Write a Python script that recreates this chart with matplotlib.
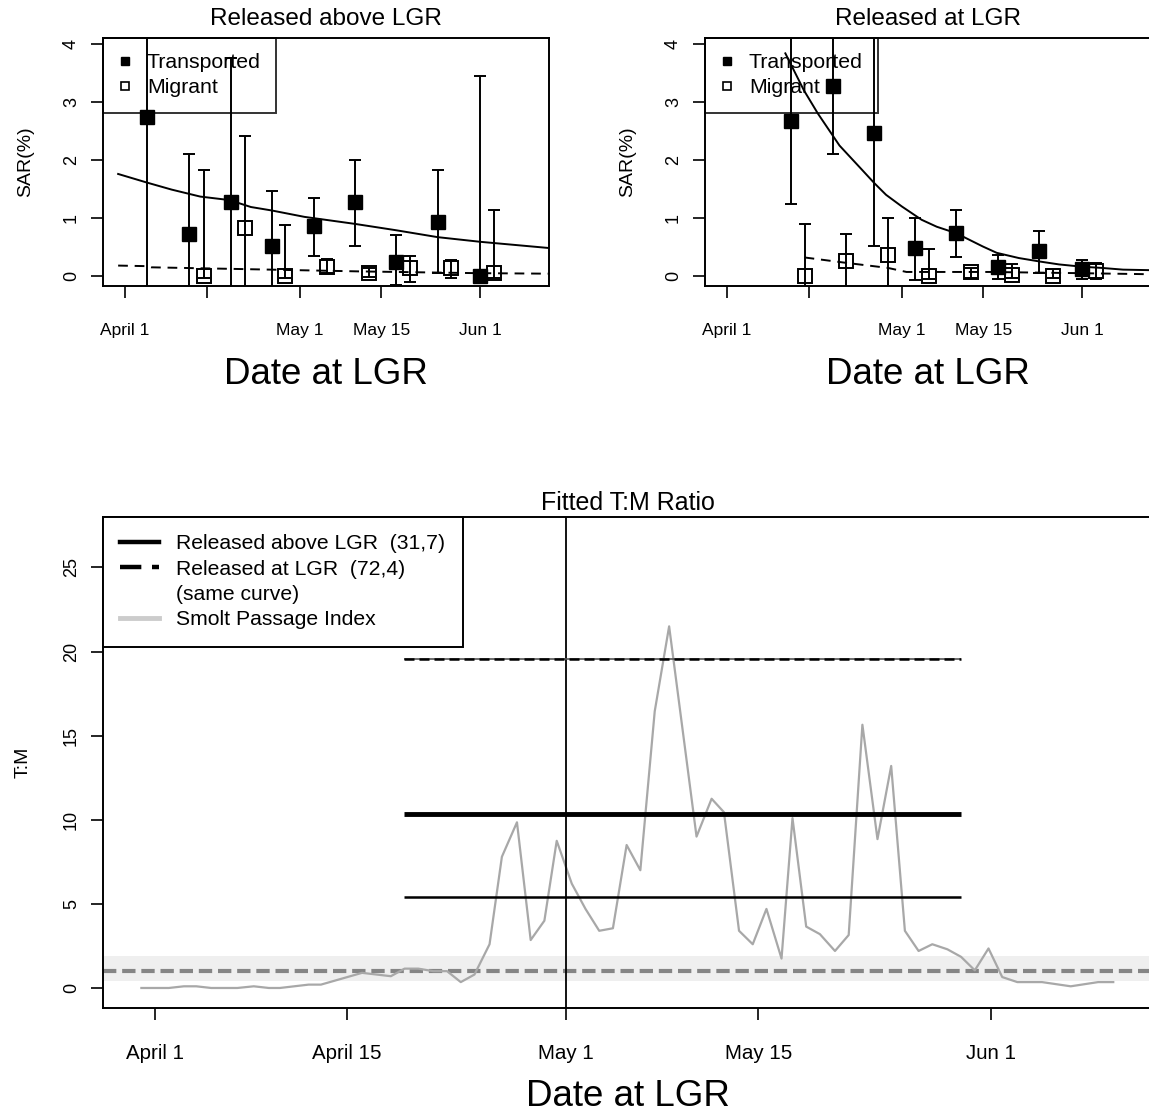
import numpy as np
import matplotlib
matplotlib.use('Agg')
import matplotlib.pyplot as plt
from matplotlib.lines import Line2D

plt.rcParams['font.family'] = ['Liberation Sans', 'DejaVu Sans']

######################### Data (days since April 1) ###########################
tick_days = [0, 14, 30, 44, 61]
tick_labels_top = ['April 1', '', 'May 1', 'May 15', 'Jun 1']
tick_labels_bottom = ['April 1', 'April 15', 'May 1', 'May 15', 'Jun 1']

# Released above LGR
above_tr_day = [3.8, 11.0, 18.1, 25.2, 32.4, 39.4, 46.5, 53.7, 61.0]
above_tr_sar = [2.74, 0.72, 1.27, 0.52, 0.86, 1.27, 0.25, 0.94, 0.0]
above_tr_lo = [-0.5, -0.5, -0.5, -0.5, 0.35, 0.52, -0.15, 0.05, 0.0]
above_tr_hi = [4.5, 2.10, 3.76, 1.46, 1.35, 2.00, 0.70, 1.83, 3.45]
above_mi_day = [13.5, 20.6, 27.5, 34.7, 41.9, 48.9, 56.0, 63.3]
above_mi_sar = [0.0, 0.83, 0.0, 0.16, 0.06, 0.13, 0.13, 0.05]
above_mi_lo = [-0.03, -0.5, -0.03, 0.05, -0.02, -0.10, -0.03, -0.03]
above_mi_hi = [1.83, 2.41, 0.88, 0.30, 0.13, 0.35, 0.28, 1.13]
above_fit_t_day = [-1.2, 3.8, 8.0, 12.9, 17.9, 21.6, 25.2, 30.8, 39.4, 46.5, 53.7, 61.0, 73.1]
above_fit_t = [1.76, 1.61, 1.49, 1.37, 1.31, 1.19, 1.13, 1.02, 0.90, 0.79, 0.67, 0.59, 0.48]
above_fit_m_day = [-1.2, 3.8, 4.5, 20.0, 40.0, 60.0, 73.1]
above_fit_m = [0.18, 0.17, 0.15, 0.12, 0.08, 0.05, 0.04]

# Released at LGR
at_tr_day = [11.0, 18.1, 25.3, 32.2, 39.3, 46.5, 53.6, 60.9]
at_tr_sar = [2.68, 3.28, 2.46, 0.48, 0.74, 0.16, 0.44, 0.115]
at_tr_lo = [1.24, 2.11, 0.52, -0.07, 0.32, -0.06, 0.06, -0.05]
at_tr_hi = [4.5, 4.5, 4.5, 1.00, 1.13, 0.37, 0.78, 0.28]
at_mi_day = [13.3, 20.4, 27.6, 34.6, 41.8, 48.9, 56.0, 63.3]
at_mi_sar = [0.0, 0.26, 0.36, 0.0, 0.07, 0.02, 0.0, 0.08]
at_mi_lo = [-0.5, -0.5, -0.5, -0.05, -0.03, -0.03, -0.04, -0.05]
at_mi_hi = [0.90, 0.72, 1.00, 0.46, 0.13, 0.20, 0.12, 0.22]
at_fit_t_day = [10.0, 13.2, 15.6, 19.3, 23.0, 25.3, 27.3, 30.0, 33.4, 36.0, 39.3,
                43.9, 46.3, 50.1, 53.7, 57.0, 61.0, 64.3, 68.0, 73.1]
at_fit_t = [3.84, 3.20, 2.80, 2.25, 1.85, 1.60, 1.40, 1.20, 0.97, 0.85, 0.74,
            0.51, 0.40, 0.31, 0.25, 0.20, 0.16, 0.14, 0.11, 0.10]
at_fit_m_day = [13.3, 20.2, 27.6, 30.8, 45.0, 60.0, 73.1]
at_fit_m = [0.32, 0.23, 0.14, 0.07, 0.07, 0.05, 0.03]

# Fitted T:M ratio
tm_span = [18.15, 58.8]
tm_fit = 10.32
tm_lo = 5.42
tm_hi = 19.56
tm_ref = 1.0
tm_band = [0.42, 1.90]

smolt_day = [-1.0, 1.0, 2.1, 3.0, 4.1, 6.0, 7.2, 8.3, 9.1, 11.2, 12.1, 15.1, 17.2,
             18.2, 19.2, 20.3, 21.3, 22.3, 23.3, 24.4, 25.3, 26.4, 27.4, 28.4, 29.3,
             30.4, 31.4, 32.4, 33.4, 34.4, 35.4, 36.45, 37.5, 39.5, 40.6, 41.5, 42.6,
             43.6, 44.6, 45.7, 46.5, 47.5, 48.5, 49.6, 50.6, 51.6, 52.7, 53.7, 54.7,
             55.7, 56.7, 57.8, 58.8, 59.8, 60.8, 61.8, 62.9, 64.7, 66.8, 68.8, 69.9]
smolt_idx = [0.0, 0.0, 0.1, 0.1, 0.0, 0.0, 0.1, 0.0, 0.0, 0.2, 0.2, 0.9, 0.7,
             1.15, 1.15, 1.0, 1.0, 0.35, 0.8, 2.6, 7.8, 9.85, 2.85, 4.0, 8.75,
             6.2, 4.7, 3.4, 3.55, 8.5, 7.0, 16.45, 21.5, 9.0, 11.25, 10.45, 3.4,
             2.6, 4.7, 1.75, 10.1, 3.65, 3.2, 2.2, 3.15, 15.65, 8.85, 13.2, 3.4,
             2.2, 2.6, 2.3, 1.85, 1.05, 2.35, 0.65, 0.35, 0.35, 0.1, 0.35, 0.35]

######################### Layout #############################################
W, H = 1149, 1112
xlim = (-3.8, 72.8)


def style_axis(ax, xlabels, xfs, yfs, xpad):
    for s in ax.spines.values():
        s.set_linewidth(1.4)
    ax.tick_params(direction='out', length=8.5, width=1.2, colors='k')
    ax.tick_params(axis='x', pad=xpad, labelsize=xfs)
    ax.tick_params(axis='y', pad=8, labelsize=yfs)
    ax.set_xticks(tick_days)
    ax.set_xticklabels(xlabels)
    for lab in ax.get_yticklabels():
        lab.set_rotation(90)
        lab.set_va('center')


def sar_panel(ax, title, tr, mi, fit_t, fit_m):
    ax.plot(fit_t[0], fit_t[1], color='k', lw=1.4)
    ax.plot(fit_m[0], fit_m[1], color='k', lw=1.4, dashes=(5, 3.5))
    d, v, lo, hi = [np.array(a) for a in tr]
    ax.errorbar(d, v, yerr=[v - lo, hi - v], fmt='none', ecolor='k', elinewidth=1.4,
                capsize=4, capthick=1.4)
    ax.plot(d, v, 's', color='k', ms=10.5, zorder=4)
    d, v, lo, hi = [np.array(a) for a in mi]
    ax.errorbar(d, v, yerr=[v - lo, hi - v], fmt='none', ecolor='k', elinewidth=1.4,
                capsize=4, capthick=1.4)
    ax.plot(d, v, 's', mfc='none', mec='k', mew=1.4, ms=10.5, zorder=4)
    ax.set_xlim(xlim)
    ax.set_ylim(-0.167, 4.11)
    ax.set_yticks([0, 1, 2, 3, 4])
    style_axis(ax, tick_labels_top, 12.5, 13, 18.5)
    ax.text(0.5, 1 + 19 / 248, title, transform=ax.transAxes, ha='center',
            va='center', fontsize=17.5)
    ax.set_ylabel('SAR(%)', fontsize=14)
    ax.yaxis.set_label_coords(-0.155, 0.5)
    ax.set_xlabel('Date at LGR', fontsize=26.5, va='center')
    ax.xaxis.set_label_coords(0.5, -(375 - 286) / 248)
    handles = [Line2D([], [], marker='s', ls='none', color='k', ms=6),
               Line2D([], [], marker='s', ls='none', mfc='none', mec='k', mew=1.2, ms=6)]
    leg = ax.legend(handles, ['Transported', 'Migrant'], loc='upper left',
                    bbox_to_anchor=(0, 1), borderaxespad=0, fontsize=15.3,
                    handlelength=0.6, handletextpad=0.75, borderpad=0.72,
                    labelspacing=0.3, fancybox=False, edgecolor='k',
                    facecolor='none', framealpha=None)
    leg.get_frame().set_linewidth(1.4)


fig = plt.figure(figsize=(W / 100, H / 100), dpi=100)
ax1 = fig.add_axes([103 / W, 1 - 285.7 / H, 446 / W, 248 / H])
ax2 = fig.add_axes([705 / W, 1 - 285.7 / H, 446 / W, 248 / H])
ax3 = fig.add_axes([103 / W, 1 - 1008 / H, 1050 / W, 491 / H])

sar_panel(ax1, 'Released above LGR',
          (above_tr_day, above_tr_sar, above_tr_lo, above_tr_hi),
          (above_mi_day, above_mi_sar, above_mi_lo, above_mi_hi),
          (above_fit_t_day, above_fit_t), (above_fit_m_day, above_fit_m))
sar_panel(ax2, 'Released at LGR',
          (at_tr_day, at_tr_sar, at_tr_lo, at_tr_hi),
          (at_mi_day, at_mi_sar, at_mi_lo, at_mi_hi),
          (at_fit_t_day, at_fit_t), (at_fit_m_day, at_fit_m))

# bottom panel: fitted T:M ratio
ax3.axhspan(tm_band[0], tm_band[1], color='#efefef', lw=0, zorder=0)
ax3.axhline(tm_ref, color='#858585', lw=3, dashes=(3.2, 1.4), zorder=1)
ax3.plot(smolt_day, smolt_idx, color='#a8a8a8', lw=1.6, zorder=2)
ax3.axvline(30, color='k', lw=1.3, zorder=3)
ax3.hlines(tm_fit, tm_span[0], tm_span[1], color='k', lw=3.5, zorder=3)
ax3.hlines(tm_lo, tm_span[0], tm_span[1], color='k', lw=1.8, zorder=3)
ax3.hlines(tm_hi, tm_span[0], tm_span[1], color='#555555', lw=1.2, zorder=3)
ax3.hlines(tm_hi, tm_span[0], tm_span[1], color='k', lw=1.8, linestyles=(0, (4, 2)), zorder=3)
ax3.set_xlim(xlim)
ax3.set_ylim(-1.19, 28.0)
ax3.set_yticks([0, 5, 10, 15, 20, 25])
style_axis(ax3, tick_labels_bottom, 14.8, 13, 17.5)
ax3.text(0.5, 1 + 14 / 491, 'Fitted T:M Ratio', transform=ax3.transAxes,
         ha='center', va='center', fontsize=18)
ax3.set_ylabel('T:M', fontsize=14)
ax3.yaxis.set_label_coords(-0.068, 0.5)
ax3.set_xlabel('Date at LGR', fontsize=26.5, va='center')
ax3.xaxis.set_label_coords(0.5, -(1096 - 1008) / 491)

handles = [Line2D([], [], color='k', lw=3.2),
           Line2D([], [], color='k', lw=3.2, dashes=(4.8, 2.4)),
           Line2D([], [], color='none'),
           Line2D([], [], color='#cccccc', lw=3.5)]
labels = ['Released above LGR  (31,7)', 'Released at LGR  (72,4)',
          '(same curve)', 'Smolt Passage Index']
leg = ax3.legend(handles, labels, loc='upper left', bbox_to_anchor=(0, 1),
                 borderaxespad=0, fontsize=15.2, handlelength=1.85,
                 handletextpad=0.8, borderpad=0.82, labelspacing=0.3,
                 fancybox=False, edgecolor='k', facecolor='white', framealpha=1)
leg.get_frame().set_linewidth(1.4)

fig.savefig('out.png', dpi=100)
